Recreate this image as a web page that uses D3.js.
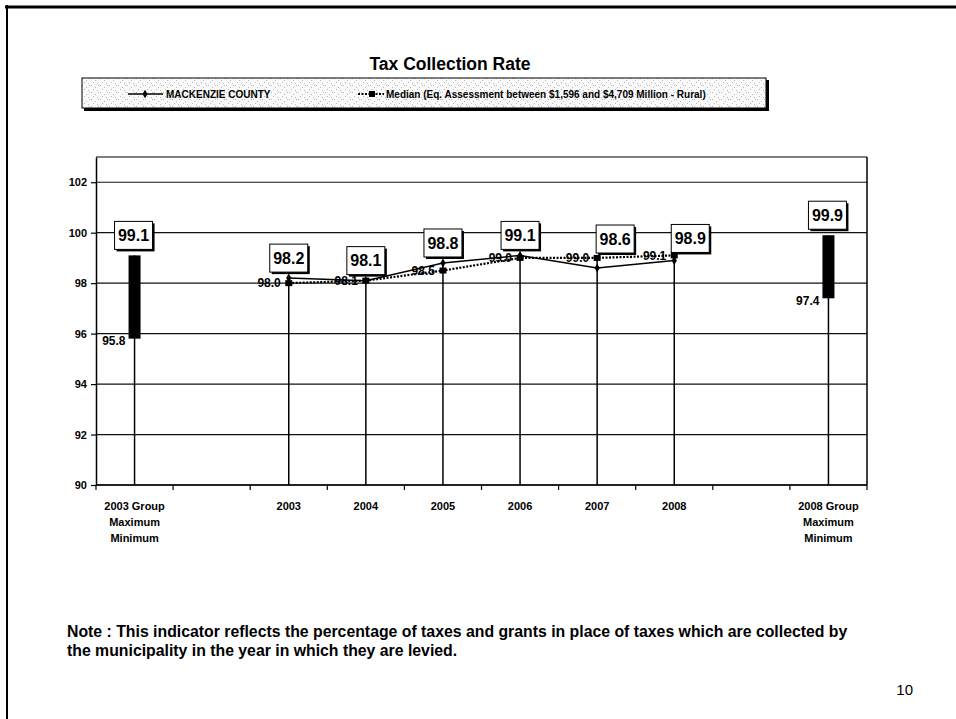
<!DOCTYPE html>
<html>
<head>
<meta charset="utf-8">
<script src="https://cdn.jsdelivr.net/npm/d3@7/dist/d3.min.js"></script>
<style>
  html, body { margin: 0; padding: 0; background: #fff; }
  svg { display: block; font-family: "Liberation Sans", Arial, sans-serif; }
</style>
</head>
<body>
<svg id="chart" width="956" height="719"></svg>
<script>
// Categories along the x axis ("|" separates label lines)
const categories = ["2003 Group|Maximum|Minimum", "", "2003", "2004", "2005", "2006", "2007", "2008", "", "2008 Group|Maximum|Minimum"];
// MACKENZIE COUNTY collection rate (%)
const countyValues = [null, null, 98.2, 98.1, 98.8, 99.1, 98.6, 98.9, null, null];
// Median of the comparison group (%)
const medianValues = [null, null, 98.0, 98.1, 98.5, 99.0, 99.0, 99.1, null, null];
// Group range for the first and last year
const groupMax = [99.1, null, null, null, null, null, null, null, null, 99.9];
const groupMin = [95.8, null, null, null, null, null, null, null, null, 97.4];
const yTicks = [90, 92, 94, 96, 98, 100, 102];

const titleText = "Tax Collection Rate";
const countyName = "MACKENZIE COUNTY";
const medianName = "Median (Eq. Assessment between $1,596 and $4,709 Million - Rural)";
const noteLines = [
  "Note : This indicator reflects the percentage of taxes and grants in place of taxes which are collected by",
  "the municipality in the year in which they are levied."
];
const pageNumber = "10";

// Boxed labels that are nudged (dx, dy in px) to keep clear of the median labels
const boxNudge = { 6: [18, -9], 7: [16, -2] };

const svg = d3.select("#chart");

// Page frame (top and left edges)
svg.append("line").attr("x1", 5).attr("x2", 956).attr("y1", 7).attr("y2", 7)
  .attr("stroke", "#000").attr("stroke-width", 3);
svg.append("line").attr("x1", 7).attr("x2", 7).attr("y1", 5).attr("y2", 719)
  .attr("stroke", "#000").attr("stroke-width", 2);

// Title
svg.append("text").attr("x", 450).attr("y", 70).attr("text-anchor", "middle")
  .attr("font-size", 17.5).attr("font-weight", "bold").text(titleText);

// Legend with speckled fill
const defs = svg.append("defs");
const pat = defs.append("pattern").attr("id", "speckle").attr("width", 9).attr("height", 7)
  .attr("patternUnits", "userSpaceOnUse");
pat.append("rect").attr("width", 9).attr("height", 7).attr("fill", "#fafafa");
[[1, 1], [5, 3], [3, 5], [7, 6], [8, 1]].forEach(([x, y]) =>
  pat.append("rect").attr("x", x).attr("y", y).attr("width", 1).attr("height", 1).attr("fill", "#b8b8b8"));

const lg = svg.append("g");
lg.append("rect").attr("x", 84).attr("y", 80).attr("width", 685).attr("height", 31).attr("fill", "#000");
lg.append("rect").attr("x", 82).attr("y", 78).attr("width", 684).attr("height", 30)
  .attr("fill", "url(#speckle)").attr("stroke", "#000").attr("stroke-width", 1);
lg.append("line").attr("x1", 128).attr("x2", 163).attr("y1", 94).attr("y2", 94)
  .attr("stroke", "#000").attr("stroke-width", 1.5);
lg.append("path").attr("d", d3.symbol(d3.symbolDiamond, 22)()).attr("transform", "translate(145,94)");
lg.append("text").attr("x", 166).attr("y", 97.5).attr("font-size", 10).attr("font-weight", "bold").text(countyName);
lg.append("line").attr("x1", 358).attr("x2", 384).attr("y1", 94).attr("y2", 94)
  .attr("stroke", "#000").attr("stroke-width", 2).attr("stroke-dasharray", "2,1.5");
lg.append("rect").attr("x", 369).attr("y", 91).attr("width", 6).attr("height", 6).attr("fill", "#000");
lg.append("text").attr("x", 386).attr("y", 97.5).attr("font-size", 10).attr("font-weight", "bold").text(medianName);

// Scales
const plot = { left: 96, right: 867, top: 157, bottom: 485 };
const x = d3.scaleBand().domain(d3.range(categories.length)).range([plot.left, plot.right]).padding(0);
const y = d3.scaleLinear().domain([90, 103]).range([plot.bottom, plot.top]);
const cx = i => x(i) + x.bandwidth() / 2;

const g = svg.append("g");

// Gridlines
g.selectAll(".grid").data(yTicks).join("line")
  .attr("x1", plot.left).attr("x2", plot.right)
  .attr("y1", d => y(d)).attr("y2", d => y(d))
  .attr("stroke", "#111").attr("stroke-width", 1.2);

// Plot frame: top and right
g.append("line").attr("x1", plot.left).attr("x2", plot.right).attr("y1", plot.top).attr("y2", plot.top)
  .attr("stroke", "#000").attr("stroke-width", 1);
g.append("line").attr("x1", plot.right).attr("x2", plot.right).attr("y1", plot.top).attr("y2", plot.bottom)
  .attr("stroke", "#000").attr("stroke-width", 1.5);

// Y axis
const yAxis = g.append("g").attr("transform", `translate(${plot.left},0)`)
  .call(d3.axisLeft(y).tickValues(yTicks).tickSize(5).tickSizeOuter(0).tickPadding(4).tickFormat(d3.format("d")));
yAxis.select(".domain").attr("stroke", "#000").attr("stroke-width", 1.5);
yAxis.selectAll(".tick line").attr("stroke", "#000").attr("stroke-width", 1.2);
yAxis.selectAll("text").attr("font-size", 11).attr("font-weight", "bold").attr("fill", "#000")
  .attr("font-family", "Liberation Sans, Arial, sans-serif");

// X axis: ticks at category boundaries
const xAxis = g.append("g").attr("transform", `translate(0,${plot.bottom})`);
xAxis.append("line").attr("x1", plot.left).attr("x2", plot.right).attr("y1", 0).attr("y2", 0)
  .attr("stroke", "#000").attr("stroke-width", 1.5);
const bounds = d3.range(categories.length + 1).map(i => i < categories.length ? x(i) : plot.right);
xAxis.selectAll(".xt").data(bounds).join("line")
  .attr("x1", d => d).attr("x2", d => d).attr("y1", 0).attr("y2", 5)
  .attr("stroke", "#000").attr("stroke-width", 1.2);
categories.forEach((c, i) => {
  if (!c) return;
  const t = xAxis.append("text").attr("text-anchor", "middle").attr("font-size", 11)
    .attr("font-weight", "bold").attr("transform", `translate(${cx(i)},0)`);
  c.split("|").forEach((line, k) => t.append("tspan").attr("x", 0).attr("y", 25 + k * 16).text(line));
});

// Drop lines from the highest value of each category to the axis
categories.forEach((c, i) => {
  const vals = [countyValues[i], medianValues[i], groupMax[i]].filter(v => v != null);
  if (!vals.length) return;
  g.append("line").attr("x1", cx(i)).attr("x2", cx(i))
    .attr("y1", y(d3.max(vals))).attr("y2", plot.bottom)
    .attr("stroke", "#000").attr("stroke-width", 1.5);
});

// Group range bars
const groupIdx = d3.range(categories.length).filter(i => groupMax[i] != null);
g.selectAll(".range").data(groupIdx).join("rect")
  .attr("x", i => cx(i) - 6).attr("width", 12)
  .attr("y", i => y(groupMax[i])).attr("height", i => y(groupMin[i]) - y(groupMax[i]))
  .attr("fill", "#000");

// Median series (dotted)
const medPts = d3.range(categories.length).filter(i => medianValues[i] != null);
g.append("path").datum(medPts)
  .attr("d", d3.line().x(i => cx(i)).y(i => y(medianValues[i])))
  .attr("fill", "none").attr("stroke", "#000").attr("stroke-width", 2.2).attr("stroke-dasharray", "2,1.5");
g.selectAll(".medm").data(medPts).join("rect")
  .attr("x", i => cx(i) - 3.5).attr("y", i => y(medianValues[i]) - 3).attr("width", 7).attr("height", 6)
  .attr("fill", "#000");

// County series (solid)
const cPts = d3.range(categories.length).filter(i => countyValues[i] != null);
g.append("path").datum(cPts)
  .attr("d", d3.line().x(i => cx(i)).y(i => y(countyValues[i])))
  .attr("fill", "none").attr("stroke", "#000").attr("stroke-width", 1.5);
g.selectAll(".cm").data(cPts).join("path")
  .attr("d", d3.symbol(d3.symbolDiamond, 24)())
  .attr("transform", i => `translate(${cx(i)},${y(countyValues[i])})`);

// Plain value labels, left of the point
function plainLabel(xp, yp, v) {
  g.append("text").attr("x", xp).attr("y", yp).attr("dy", "0.36em").attr("text-anchor", "end")
    .attr("font-size", 12).attr("font-weight", "bold").text(d3.format(".1f")(v));
}
medPts.forEach(i => plainLabel(cx(i) - 8, y(medianValues[i]), medianValues[i]));
groupIdx.forEach(i => plainLabel(cx(i) - 9, y(groupMin[i]) + 2, groupMin[i]));

// Boxed value labels above the point
function boxLabel(xp, yp, v) {
  const w = 38, h = 28, bx = xp - w / 2, by = yp - 6 - h;
  g.append("rect").attr("x", bx + 2).attr("y", by + 2).attr("width", w).attr("height", h).attr("fill", "#000");
  g.append("rect").attr("x", bx).attr("y", by).attr("width", w).attr("height", h)
    .attr("fill", "#fff").attr("stroke", "#000").attr("stroke-width", 1);
  g.append("text").attr("x", xp).attr("y", by + h / 2).attr("dy", "0.36em").attr("text-anchor", "middle")
    .attr("font-size", 16).attr("font-weight", "bold").text(d3.format(".1f")(v));
}
cPts.forEach(i => {
  const [dx, dy] = boxNudge[i] || [0, 0];
  boxLabel(cx(i) + dx, y(countyValues[i]) + dy, countyValues[i]);
});
groupIdx.forEach(i => boxLabel(cx(i) - 1, y(groupMax[i]), groupMax[i]));

// Note, sized so the first line spans the text block
const note = svg.append("g");
const probe = note.append("text").attr("font-size", 12).attr("font-weight", "bold").text(noteLines[0]);
const w0 = probe.node().getComputedTextLength();
probe.remove();
const noteSize = 12 * 781 / w0;
noteLines.forEach((line, k) => {
  note.append("text").attr("x", 67).attr("y", 637 + k * 19).attr("font-size", noteSize)
    .attr("font-weight", "bold").text(line);
});

// Page number
svg.append("text").attr("x", 913).attr("y", 695).attr("text-anchor", "end").attr("font-size", 15).text(pageNumber);
</script>
</body>
</html>
